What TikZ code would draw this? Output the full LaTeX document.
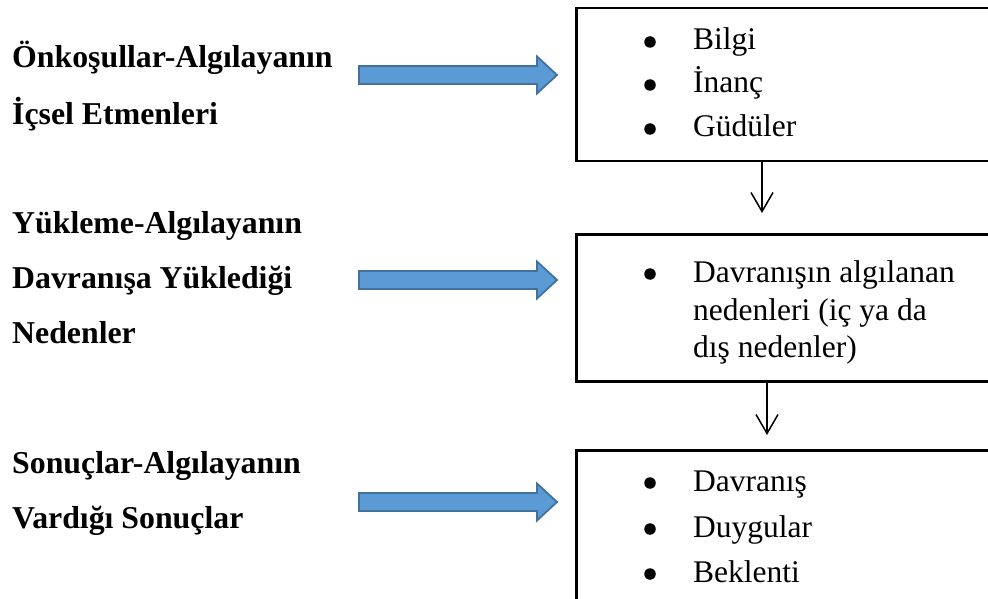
\documentclass[tikz,border=0pt]{standalone}
\usepackage{fontspec}
\setmainfont{Liberation Serif}
\usetikzlibrary{arrows.meta, positioning}
\definecolor{arrowfill}{HTML}{5B9BD5}
\definecolor{arrowline}{HTML}{41719C}

\begin{document}
\begin{tikzpicture}[x=1pt, y=-1pt,
    head/.style={anchor=base west, inner sep=0pt, font=\fontsize{31.8}{38}\selectfont\bfseries},
    item/.style={anchor=base west, inner sep=0pt, font=\fontsize{31.5}{38}\selectfont},
    dot/.style={circle, fill, inner sep=0pt, minimum size=11.5pt},
    block/.style={rectangle, draw, line width=2.5pt, anchor=north west, minimum width=440pt, inner sep=0pt},
    bigarrow/.style={draw=arrowline, fill=arrowfill, line width=1.8pt, line join=miter},
    arrow/.style={line width=1.5pt, -{Straight Barb[length=19pt, width=22pt]}}]
    \clip (0,0) rectangle (988,599);
    % left column
    \node [head] (pre1) at (12,68) {Önkoşullar-Algılayanın};
    \node [head] (pre2) at (12,125) {İçsel Etmenleri};
    \node [head] (att1) at (12,233) {Yükleme-Algılayanın};
    \node [head] (att2) at (12,288) {Davranışa Yüklediği};
    \node [head] (att3) at (12,343) {Nedenler};
    \node [head] (res1) at (12,473) {Sonuçlar-Algılayanın};
    \node [head] (res2) at (12,528) {Vardığı Sonuçlar};
    % boxes
    \node [block, minimum height=153pt] (bilgi) at (575,7) {};
    \node [block, minimum height=147pt] (neden) at (575,233) {};
    \node [block, minimum height=200pt] (sonuc) at (575,449) {};
    \foreach \y/\t in {50/Bilgi, 93/İnanç, 137/Güdüler, 491/Davranış, 537/Duygular, 582/Beklenti} {
        \node [dot] at (650,\y-8) {};
        \node [item] at (693,\y) {\t};
    }
    \node [dot] (b2) at (650,282-8) {};
    \node [item] (n1) at (693,282) {Davranışın algılanan};
    \node [item] (n2) at (693,320) {nedenleri (iç ya da};
    \node [item] (n3) at (693,357) {dış nedenler)};
    % block arrows
    \foreach \y in {75,280,502}
        \draw [bigarrow] (359,\y-9) -- (537,\y-9) -- (537,\y-18.5) -- (557,\y)
            -- (537,\y+18.5) -- (537,\y+9) -- (359,\y+9) -- cycle;
    % down arrows
    \coordinate (d1) at (762,213);
    \coordinate (d2) at (767,435);
    \draw [arrow] (bilgi.south -| d1) -- (d1);
    \draw [arrow] (neden.south -| d2) -- (d2);
\end{tikzpicture}
\end{document}
